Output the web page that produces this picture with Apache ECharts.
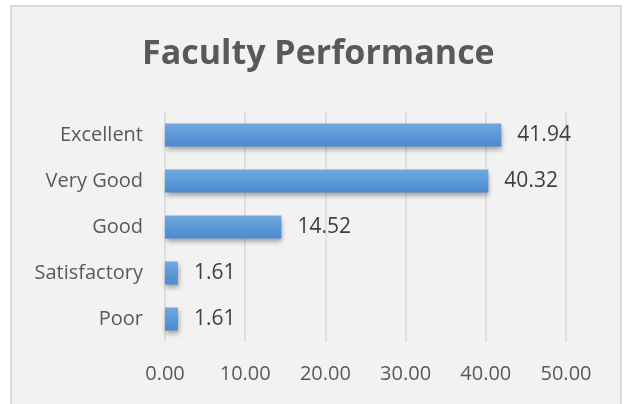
<!DOCTYPE html>
<html>
<head>
<meta charset="utf-8">
<script src="https://cdn.jsdelivr.net/npm/echarts@6/dist/echarts.min.js"></script>
<style>
html,body{margin:0;padding:0;background:#fff;}
#chart{width:624px;height:404px;}
</style>
</head>
<body>
<div id="chart"></div>
<script>
const categories = ["Excellent", "Very Good", "Good", "Satisfactory", "Poor"];
const values = [41.94, 40.32, 14.52, 1.61, 1.61];
const titleText = "Faculty Performance";

const chart = echarts.init(document.getElementById('chart'), null, {renderer: 'canvas'});
chart.setOption({
  animation: false,
  backgroundColor: '#ffffff',
  graphic: [{
    type: 'rect',
    z: -10,
    silent: true,
    shape: {x: 11, y: 6, width: 610, height: 420},
    style: {fill: '#f2f2f2', stroke: '#d9d9d9', lineWidth: 2}
  }],
  title: {
    text: titleText,
    left: 137,
    top: 32,
    textStyle: {fontFamily: 'Open Sans', fontWeight: 'bold', fontSize: 34, color: '#595959'}
  },
  grid: {left: 165, right: 58, top: 112, bottom: 62, containLabel: false},
  xAxis: {
    type: 'value',
    min: 0, max: 50, interval: 10,
    axisLine: {show: false},
    axisTick: {show: false},
    splitLine: {show: true, lineStyle: {color: '#d9d9d9', width: 1.5}},
    axisLabel: {
      formatter: v => v.toFixed(2),
      color: '#595959', fontFamily: 'Open Sans', fontSize: 20, margin: 22
    }
  },
  yAxis: {
    type: 'category',
    data: categories,
    inverse: true,
    axisLine: {show: false},
    axisTick: {show: false},
    axisLabel: {color: '#595959', fontFamily: 'Open Sans', fontSize: 20, margin: 22}
  },
  series: [{
    type: 'bar',
    data: values,
    barWidth: 23,
    itemStyle: {
      color: new echarts.graphic.LinearGradient(0, 0, 0, 1, [
        {offset: 0, color: '#70a8df'},
        {offset: 1, color: '#4a8ad2'}
      ]),
      shadowColor: 'rgba(0,0,0,0.35)',
      shadowBlur: 5,
      shadowOffsetX: 1,
      shadowOffsetY: 3
    },
    label: {
      show: true,
      position: 'right',
      distance: 16,
      formatter: p => p.value.toFixed(2),
      color: '#404040',
      fontFamily: 'Open Sans',
      fontSize: 21
    }
  }]
});
</script>
</body>
</html>
